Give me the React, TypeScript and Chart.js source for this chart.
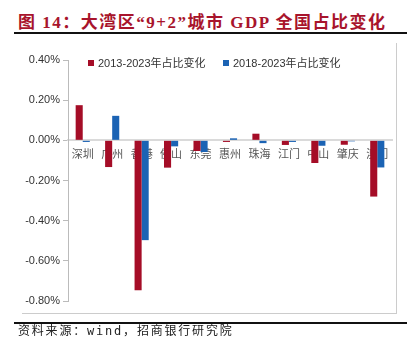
import React, { useEffect, useRef } from "react";
import { Chart, registerables } from "chart.js";

Chart.register(...registerables);

const categories = ["深圳", "广州", "香港", "佛山", "东莞", "惠州", "珠海", "江门", "中山", "肇庆", "澳门"];
const change2013 = [0.175, -0.133, -0.747, -0.136, -0.053, -0.008, 0.033, -0.023, -0.113, -0.022, -0.28];
const change2018 = [-0.008, 0.122, -0.497, -0.03, -0.058, 0.01, -0.014, -0.008, -0.027, -0.005, -0.135];
const seriesNames = ["2013-2023年占比变化", "2018-2023年占比变化"];
const yTicks = [-0.8, -0.6, -0.4, -0.2, 0, 0.2, 0.4];

const RED = "#a50d27";
const BLUE = "#1b63b4";

const legendPlugin = {
  id: "customLegend",
  afterDraw(chart: any) {
    const ctx = chart.ctx;
    const area = chart.chartArea;
    const items = [
      { x: area.left + 20, color: RED, text: seriesNames[0] },
      { x: area.left + 155, color: BLUE, text: seriesNames[1] },
    ];
    const y = area.top + 3;
    ctx.save();
    ctx.font = "11px 'Liberation Sans', 'Noto Sans CJK SC'";
    ctx.textBaseline = "middle";
    ctx.textAlign = "left";
    for (const it of items) {
      ctx.fillStyle = it.color;
      ctx.fillRect(it.x, y - 3, 6, 6);
      ctx.fillStyle = "#333";
      ctx.fillText(it.text, it.x + 10, y + 0.5);
    }
    ctx.restore();
  },
};

export default function App() {
  const ref = useRef<HTMLCanvasElement>(null);
  useEffect(() => {
    const chart = new Chart(ref.current as HTMLCanvasElement, {
      type: "bar",
      data: {
        labels: categories,
        datasets: [
          { label: seriesNames[0], data: change2013, backgroundColor: RED, barPercentage: 1, categoryPercentage: 0.48 },
          { label: seriesNames[1], data: change2018, backgroundColor: BLUE, barPercentage: 1, categoryPercentage: 0.48 },
        ],
      },
      options: {
        animation: false,
        responsive: false,
        devicePixelRatio: 1,
        layout: { padding: { left: 0, top: 60, right: 26, bottom: 53 } },
        plugins: { legend: { display: false }, tooltip: { enabled: false } },
        scales: {
          x: {
            position: { y: 0 } as any,
            grid: { display: false, drawTicks: false },
            border: { display: true, color: "#dadada", width: 2 },
            ticks: {
              color: "#555",
              font: { family: "'Noto Sans CJK SC'", size: 11 },
              padding: 7,
              maxRotation: 0,
              autoSkip: false,
            },
          },
          y: {
            min: -0.8,
            max: 0.4,
            afterFit(scale: any) {
              scale.width = 68;
            },
            afterBuildTicks(scale: any) {
              scale.ticks = yTicks.map((v) => ({ value: v }));
            },
            grid: { drawOnChartArea: false, drawTicks: true, tickLength: 5, color: "#bbb" },
            border: { display: true, color: "#bbb", width: 1 },
            ticks: {
              color: "#333",
              font: { family: "'Liberation Sans'", size: 11 },
              padding: 3,
              callback: (v: any) => Number(v).toFixed(2) + "%",
            },
          },
        },
      },
      plugins: [legendPlugin],
    });
    return () => chart.destroy();
  }, []);

  return (
    <div style={{ position: "absolute", left: 0, top: 0, width: 418, height: 354, background: "#fff", overflow: "hidden" }}>
      <div
        style={{
          position: "absolute",
          left: 18,
          top: 12,
          fontFamily: "'Liberation Serif', 'Noto Sans CJK SC'",
          fontWeight: "bold",
          fontSize: 17,
          lineHeight: "22px",
          letterSpacing: 1.5,
          color: "#a8142c",
          whiteSpace: "nowrap",
        }}
      >
        图 14：大湾区“9+2”城市 GDP 全国占比变化
      </div>
      <div style={{ position: "absolute", left: 14, top: 32, width: 393, height: 2, background: "#111" }} />
      <div style={{ position: "absolute", left: 22, top: 313, width: 375, height: 1, background: "#ccc" }} />
      <div style={{ position: "absolute", left: 396, top: 43, width: 1, height: 271, background: "#ccc" }} />
      <canvas ref={ref} width={418} height={354} style={{ position: "absolute", left: 0, top: 0, width: 418, height: 354 }} />
      <div style={{ position: "absolute", left: 14, top: 322, width: 393, height: 2, background: "#111" }} />
      <div
        style={{
          position: "absolute",
          left: 18,
          top: 323,
          fontFamily: "'DejaVu Sans Mono', 'Noto Sans CJK SC'",
          fontSize: 12,
          lineHeight: "16px",
          letterSpacing: 1.8,
          color: "#222",
          whiteSpace: "nowrap",
        }}
      >
        资料来源：wind，招商银行研究院
      </div>
    </div>
  );
}
